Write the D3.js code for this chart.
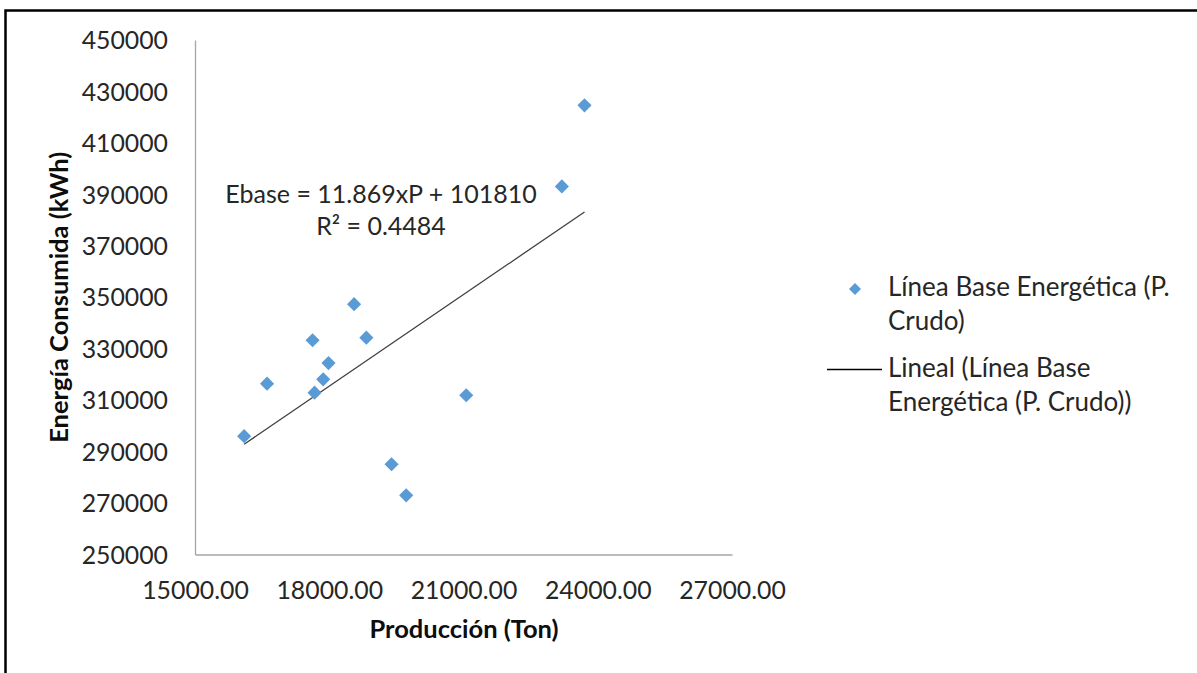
<!DOCTYPE html>
<html>
<head>
<meta charset="utf-8">
<script src="https://cdn.jsdelivr.net/npm/d3@7/dist/d3.min.js"></script>
<style>
  html, body { margin: 0; padding: 0; background: #fff; }
  svg { display: block; font-family: Lato, "Open Sans", sans-serif; }
</style>
</head>
<body>
<svg id="chart" width="1197" height="673"></svg>
<script>
// ---- data ----
const produccion = [16098, 16610, 17627, 17672, 17865, 17983, 18555, 18829, 19392, 19719, 21061, 23704, 23198];
const energia    = [296000, 316400, 333300, 312900, 318100, 324400, 347300, 334300, 285100, 273000, 311900, 424600, 393100];
const xTicks = [15000, 18000, 21000, 24000, 27000];
const yTicks = [250000, 270000, 290000, 310000, 330000, 350000, 370000, 390000, 410000, 430000, 450000];
const trendSlope = 11.869;
const trendIntercept = 101810;
const equationLines = ["Ebase = 11.869xP + 101810", "R² = 0.4484"];
const seriesName = ["Línea Base Energética (P.", "Crudo)"];
const trendName = ["Lineal (Línea Base", "Energética (P. Crudo))"];
const xTitle = "Producción (Ton)";
const yTitle = "Energía Consumida (kWh)";

// ---- layout ----
const svg = d3.select("#chart");
const x = d3.scaleLinear().domain([15000, 27000]).range([195, 732]);
const y = d3.scaleLinear().domain([250000, 450000]).range([554.5, 40]);
const textColor = "#262626";
const tickFs = 24.8;
const titleFs = 25.5;
const eqFs = 25;
const legFs = 26;

// outer frame (left and top edges visible)
svg.append("path").attr("d", "M5.5,673 L5.5,10.5 L1197,10.5")
  .attr("fill", "none").attr("stroke", "#000").attr("stroke-width", 2.5);

// axes
const xAxis = d3.axisBottom(x).tickValues(xTicks).tickFormat(d3.format(".2f")).tickSize(0).tickPadding(0);
const yAxis = d3.axisLeft(y).tickValues(yTicks).tickFormat(d3.format("d")).tickSize(0).tickPadding(0);

const gx = svg.append("g").attr("transform", `translate(0,${y(250000)})`).call(xAxis);
gx.select(".domain").attr("stroke", "#a6a6a6").attr("stroke-width", 1.3);
gx.selectAll("text").attr("fill", textColor).attr("font-size", tickFs).attr("font-family", "Lato")
  .attr("dy", null).attr("y", 44);

const gy = svg.append("g").attr("transform", `translate(${x(15000)},0)`).call(yAxis);
gy.select(".domain").attr("stroke", "#a6a6a6").attr("stroke-width", 1.3);
gy.selectAll("text").attr("fill", textColor).attr("font-size", tickFs).attr("font-family", "Lato")
  .attr("x", -27).attr("dy", "0.35em");

// axis titles
svg.append("text").text(xTitle)
  .attr("x", 464).attr("y", 638).attr("text-anchor", "middle")
  .attr("font-weight", "bold").attr("font-size", titleFs).attr("fill", "#0d0d0d");
svg.append("text").text(yTitle)
  .attr("transform", `translate(68,${(y(250000) + y(450000)) / 2}) rotate(-90)`)
  .attr("text-anchor", "middle")
  .attr("font-weight", "bold").attr("font-size", titleFs).attr("fill", "#0d0d0d");

// trend line
const xMin = d3.min(produccion), xMax = d3.max(produccion);
svg.append("line")
  .attr("x1", x(xMin)).attr("y1", y(trendSlope * xMin + trendIntercept))
  .attr("x2", x(xMax)).attr("y2", y(trendSlope * xMax + trendIntercept))
  .attr("stroke", "#404040").attr("stroke-width", 1.3);

// points (rotated squares = diamonds)
const diamond = d3.symbol().type(d3.symbolSquare).size(100);
svg.append("g").selectAll("path").data(produccion.map((p, i) => [p, energia[i]]))
  .join("path")
  .attr("d", diamond)
  .attr("transform", d => `translate(${x(d[0])},${y(d[1])}) rotate(45)`)
  .attr("fill", "#5b9bd5");

// equation label
svg.append("text").attr("text-anchor", "middle").attr("fill", textColor).attr("font-size", eqFs)
  .selectAll("tspan").data(equationLines).join("tspan")
  .attr("x", 381).attr("y", (d, i) => 203 + i * 32).text(d => d);

// legend
svg.append("path").attr("d", d3.symbol().type(d3.symbolSquare).size(72)())
  .attr("transform", "translate(855,289) rotate(45)").attr("fill", "#5b9bd5");
svg.append("text").attr("fill", textColor).attr("font-size", legFs)
  .selectAll("tspan").data(seriesName).join("tspan")
  .attr("x", 888).attr("y", (d, i) => 296 + i * 34).text(d => d);
svg.append("line").attr("x1", 827).attr("x2", 882).attr("y1", 369.5).attr("y2", 369.5)
  .attr("stroke", "#000").attr("stroke-width", 1.3);
svg.append("text").attr("fill", textColor).attr("font-size", legFs)
  .selectAll("tspan").data(trendName).join("tspan")
  .attr("x", 888).attr("y", (d, i) => 377 + i * 34).text(d => d);
</script>
</body>
</html>
